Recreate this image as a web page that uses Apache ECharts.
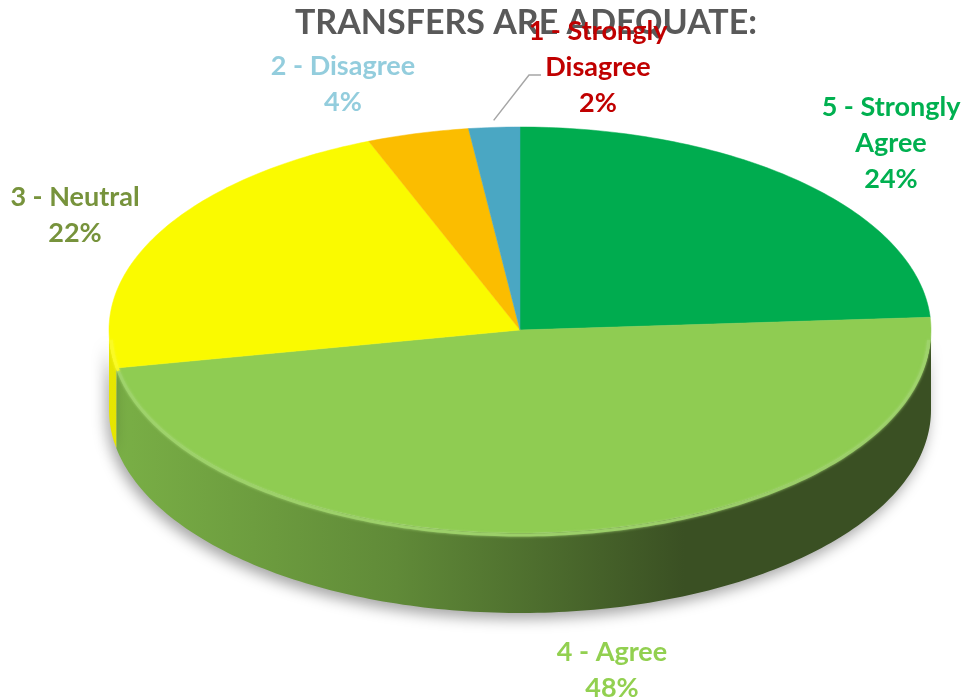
<!DOCTYPE html>
<html>
<head>
<meta charset="utf-8">
<script src="https://cdn.jsdelivr.net/npm/echarts@6/dist/echarts.min.js"></script>
<style>
  html, body { margin: 0; padding: 0; background: #fff; }
  #chart { width: 967px; height: 700px; }
</style>
</head>
<body>
<div id="chart"></div>
<script>
// data
const categories = ['5 - Strongly Agree', '4 - Agree', '3 - Neutral', '2 - Disagree', '1 - Strongly Disagree'];
const labelLines = [['5 - Strongly', 'Agree'], ['4 - Agree'], ['3 - Neutral'], ['2 - Disagree'], ['1 - Strongly', 'Disagree']];
const shares = [24, 48, 22, 4, 2];

// look
const topColors = ['#00AC4F', '#8FCC52', '#FAFA00', '#FBBD00', '#4AA7C3'];
const sideColors = [
    ['#00803A', '#005A28'],
    ['#7AB046', '#3A5023'],
    ['#E6E600', '#B8B800'],
    ['#D9A300', '#A67C00'],
    ['#3A8AA2', '#2C6A7D']
];
const labelColors = ['#00B050', '#92D050', '#77933C', '#93CDDD', '#C00000'];
// centre of first label line, per slice
const labelAnchors = [[891, 107], [612, 652], [75, 197], [343, 66], [598, 31]];
const LABEL_FONT = 'bold 27px Lato';
const LINE_H = 36;

// 3d-ish geometry of the pie
const cx = 520, cy = 330, rx = 411, ry = 203, depth = 80;

const total = shares.reduce((a, b) => a + b, 0);

function sliceAngles(idx) {
    let before = 0;
    for (let i = 0; i < idx; i++) before += shares[i];
    return [before / total * 360, (before + shares[idx]) / total * 360];
}

function pt(deg, dy, k) {
    let r = deg * Math.PI / 180;
    k = k || 1;
    return [cx + rx * k * Math.sin(r), cy - ry * k * Math.cos(r) + (dy || 0)];
}

function arc(a, b, dy, k) {
    let pts = [];
    let n = Math.max(2, Math.ceil(Math.abs(b - a)));
    for (let i = 0; i <= n; i++) pts.push(pt(a + (b - a) * i / n, dy, k));
    return pts;
}

function renderSide(params, api) {
    let idx = params.dataIndex;
    let [a, b] = sliceAngles(idx);
    let s = Math.max(a, 90), e = Math.min(b, 270);
    if (e <= s) return null;
    let pts = arc(s, e, 0).concat(arc(e, s, depth));
    return {
        type: 'polygon',
        shape: {points: pts},
        style: {
            fill: new echarts.graphic.LinearGradient(cx - rx, 0, cx + rx, 0, [
                {offset: 0, color: sideColors[idx][0]},
                {offset: 0.35, color: echarts.color.lerp(0.4, [sideColors[idx][0], sideColors[idx][1]])},
                {offset: 0.7, color: sideColors[idx][1]},
                {offset: 1, color: sideColors[idx][1]}
            ], true),
            shadowBlur: 14,
            shadowColor: 'rgba(0,0,0,0.35)',
            shadowOffsetY: 6,
            shadowOffsetX: -3
        }
    };
}

function renderTop(params, api) {
    let idx = params.dataIndex;
    let [a, b] = sliceAngles(idx);
    let children = [{
        type: 'polygon',
        shape: {points: [[cx, cy]].concat(arc(a, b, 0))},
        style: {fill: topColors[idx], stroke: topColors[idx], lineWidth: 0.5}
    }];
    // soft highlight along the front rim
    let s = Math.max(a, 92), e = Math.min(b, 268);
    if (e > s) {
        children.push({
            type: 'polyline',
            shape: {points: arc(s, e, 3, 0.995)},
            style: {
                stroke: echarts.color.lift(topColors[idx], 0.15),
                lineWidth: 3,
                fill: null,
                opacity: 0.9,
                shadowBlur: 3,
                shadowColor: echarts.color.lift(topColors[idx], 0.2)
            }
        });
    }
    let pct = Math.round(api.value(0) / total * 100) + '%';
    let [lx, ly] = labelAnchors[idx];
    children.push({
        type: 'text',
        z2: 50,
        style: {
            text: labelLines[idx].concat([pct]).join('\n'),
            x: lx,
            y: ly - LINE_H / 2,
            align: 'center',
            verticalAlign: 'top',
            font: LABEL_FONT,
            lineHeight: LINE_H,
            fill: labelColors[idx]
        }
    });
    // leader line for the thin slice
    if (idx === 4) {
        let mid = (a + b) / 2;
        let p0 = pt(mid, -3, 1.02);
        children.push({
            type: 'polyline',
            shape: {points: [p0, [lx - 69, ly + 44], [lx - 57, ly + 44]]},
            style: {stroke: '#A6A6A6', lineWidth: 1.5, fill: null}
        });
    }
    return {type: 'group', children: children};
}

let chart = echarts.init(document.getElementById('chart'), null, {renderer: 'canvas'});
chart.setOption({
    animation: false,
    title: {
        text: 'TRANSFERS ARE ADEQUATE:',
        left: 521,
        textAlign: 'center',
        top: 1,
        z: 0,
        textStyle: {fontFamily: 'Lato', fontSize: 34, fontWeight: 'bold', color: '#595959'}
    },
    series: [{
        type: 'custom',
        name: 'sides',
        coordinateSystem: 'none',
        z: 2,
        silent: true,
        renderItem: renderSide,
        data: shares.map((v, i) => ({name: categories[i], value: v}))
    }, {
        type: 'custom',
        name: 'tops',
        coordinateSystem: 'none',
        z: 10,
        silent: true,
        renderItem: renderTop,
        data: shares.map((v, i) => ({name: categories[i], value: v}))
    }]
});
</script>
</body>
</html>
